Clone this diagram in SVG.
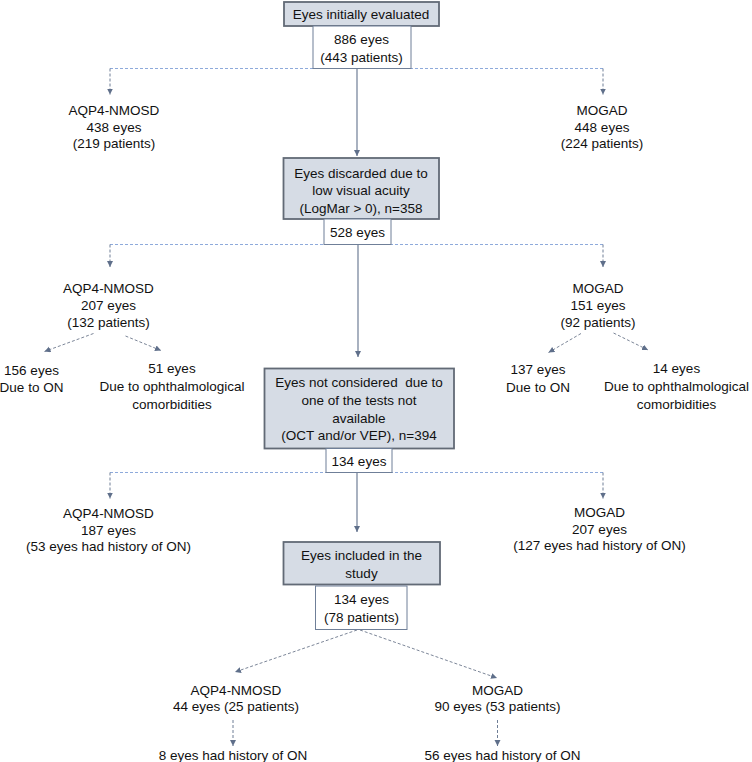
<svg xmlns="http://www.w3.org/2000/svg" width="752" height="762" viewBox="0 0 752 762">
<style>
text{font-family:"Liberation Sans",Arial,sans-serif;font-size:13.5px;fill:#111;text-anchor:middle}
.gb{fill:#d6dce5;stroke:#626a76;stroke-width:1.8}
.wb{fill:#fff;stroke:#6f7f98;stroke-width:1}
.solid{stroke:#6f7e96;stroke-width:1.2;fill:none}
.hd{stroke:#8eaadb;stroke-width:1.2;stroke-dasharray:3 2;fill:none}
.vd{stroke:#6f7e96;stroke-width:1;stroke-dasharray:3 2;fill:none}
.dd{stroke:#7c8698;stroke-width:1;stroke-dasharray:3 2;fill:none}
</style>
<defs>
<marker id="ah" markerUnits="userSpaceOnUse" markerWidth="7" markerHeight="7" refX="6" refY="3" orient="auto">
<path d="M0,0 L6,3 L0,6 Z" fill="#5f6f8a"/>
</marker>
</defs>
<rect width="752" height="762" fill="#fff"/>
<g id="connectors">
<line class="solid" x1="357" y1="68.5" x2="357" y2="156" marker-end="url(#ah)"/>
<line class="hd" x1="110" y1="68.5" x2="603" y2="68.5"/>
<line class="vd" x1="110" y1="68.5" x2="110" y2="94.5" marker-end="url(#ah)"/>
<line class="vd" x1="603" y1="68.5" x2="603" y2="94.5" marker-end="url(#ah)"/>
<line class="solid" x1="358" y1="244.5" x2="358" y2="357" marker-end="url(#ah)"/>
<line class="hd" x1="110" y1="244.5" x2="603" y2="244.5"/>
<line class="vd" x1="110" y1="244.5" x2="110" y2="267" marker-end="url(#ah)"/>
<line class="vd" x1="603" y1="244.5" x2="603" y2="267" marker-end="url(#ah)"/>
<line class="dd" x1="93.5" y1="333.5" x2="44.5" y2="351.5" marker-end="url(#ah)"/>
<line class="dd" x1="125.5" y1="336" x2="161" y2="350.5" marker-end="url(#ah)"/>
<line class="dd" x1="581" y1="333.5" x2="548.5" y2="352.5" marker-end="url(#ah)"/>
<line class="dd" x1="613.5" y1="333" x2="648" y2="350" marker-end="url(#ah)"/>
<line class="solid" x1="357" y1="472.5" x2="357" y2="532" marker-end="url(#ah)"/>
<line class="hd" x1="110" y1="472.5" x2="603" y2="472.5"/>
<line class="vd" x1="110" y1="472.5" x2="110" y2="498.5" marker-end="url(#ah)"/>
<line class="vd" x1="603" y1="472.5" x2="603" y2="498.5" marker-end="url(#ah)"/>
<line class="dd" x1="357" y1="630" x2="235" y2="672" marker-end="url(#ah)"/>
<line class="dd" x1="360" y1="630" x2="497" y2="678" marker-end="url(#ah)"/>
<line class="vd" x1="233" y1="720" x2="233" y2="746" marker-end="url(#ah)"/>
<line class="vd" x1="497.5" y1="720" x2="497.5" y2="746" marker-end="url(#ah)"/>
</g>
<g id="n1"><rect class="gb" x="284" y="2" width="155" height="24"/><text x="361" y="19">Eyes initially evaluated</text></g>
<g id="n1c"><rect class="wb" x="313" y="26" width="98" height="42.5"/><text x="361.5" y="44">886 eyes</text><text x="361.5" y="61.5">(443 patients)</text></g>
<g id="n1a"><text x="114" y="115">AQP4-NMOSD</text><text x="114" y="131.5">438 eyes</text><text x="114" y="147.5">(219 patients)</text></g>
<g id="n1m"><text x="602" y="115">MOGAD</text><text x="602" y="131.5">448 eyes</text><text x="602" y="147.5">(224 patients)</text></g>
<g id="n2"><rect class="gb" x="283.5" y="158" width="155.5" height="61"/><text x="361" y="177.5">Eyes discarded due to</text><text x="361" y="195">low visual acuity</text><text x="361" y="212.5">(LogMar &gt; 0), n=358</text></g>
<g id="n2c"><rect class="wb" x="324" y="219" width="67" height="25.5"/><text x="357.5" y="237">528 eyes</text></g>
<g id="n2a"><text x="108.5" y="293">AQP4-NMOSD</text><text x="108.5" y="310">207 eyes</text><text x="108.5" y="326.5">(132 patients)</text></g>
<g id="n2m"><text x="598" y="293">MOGAD</text><text x="598" y="310">151 eyes</text><text x="598" y="326.5">(92 patients)</text></g>
<g id="n2a1"><text x="31.5" y="375">156 eyes</text><text x="31.5" y="391.5">Due to ON</text></g>
<g id="n2a2"><text x="172" y="373">51 eyes</text><text x="172" y="391">Due to ophthalmological</text><text x="172" y="409">comorbidities</text></g>
<g id="n2m1"><text x="538" y="374">137 eyes</text><text x="538" y="391.5">Due to ON</text></g>
<g id="n2m2"><text x="676.5" y="372.5">14 eyes</text><text x="676.5" y="391">Due to ophthalmological</text><text x="676.5" y="408.5">comorbidities</text></g>
<g id="n3"><rect class="gb" x="264.5" y="368.5" width="189.5" height="80"/><text x="359" y="387" xml:space="preserve">Eyes not considered  due to</text><text x="359" y="404.5">one of the tests not</text><text x="359" y="422.5">available</text><text x="359" y="440">(OCT and/or VEP), n=394</text></g>
<g id="n3c"><rect class="wb" x="326" y="448.5" width="66" height="24"/><text x="359" y="465.5">134 eyes</text></g>
<g id="n3a"><text x="108.5" y="518">AQP4-NMOSD</text><text x="108.5" y="534.5">187 eyes</text><text x="108.5" y="550.5">(53 eyes had history of ON)</text></g>
<g id="n3m"><text x="599.5" y="517">MOGAD</text><text x="599.5" y="533.5">207 eyes</text><text x="599.5" y="549.5">(127 eyes had history of ON)</text></g>
<g id="n4"><rect class="gb" x="283.5" y="542" width="156.5" height="42.5"/><text x="361.5" y="560">Eyes included in the</text><text x="361.5" y="577.5">study</text></g>
<g id="n4c"><rect class="wb" x="315.5" y="586" width="91.5" height="43.5"/><text x="361.5" y="604">134 eyes</text><text x="361.5" y="621.5">(78 patients)</text></g>
<g id="n4a"><text x="236" y="695">AQP4-NMOSD</text><text x="236" y="711">44 eyes (25 patients)</text></g>
<g id="n4m"><text x="497.5" y="694.5">MOGAD</text><text x="497.5" y="711">90 eyes (53 patients)</text></g>
<g id="n4a1"><text x="233" y="760">8 eyes had history of ON</text></g>
<g id="n4m1"><text x="502.5" y="760">56 eyes had history of ON</text></g>
</svg>
